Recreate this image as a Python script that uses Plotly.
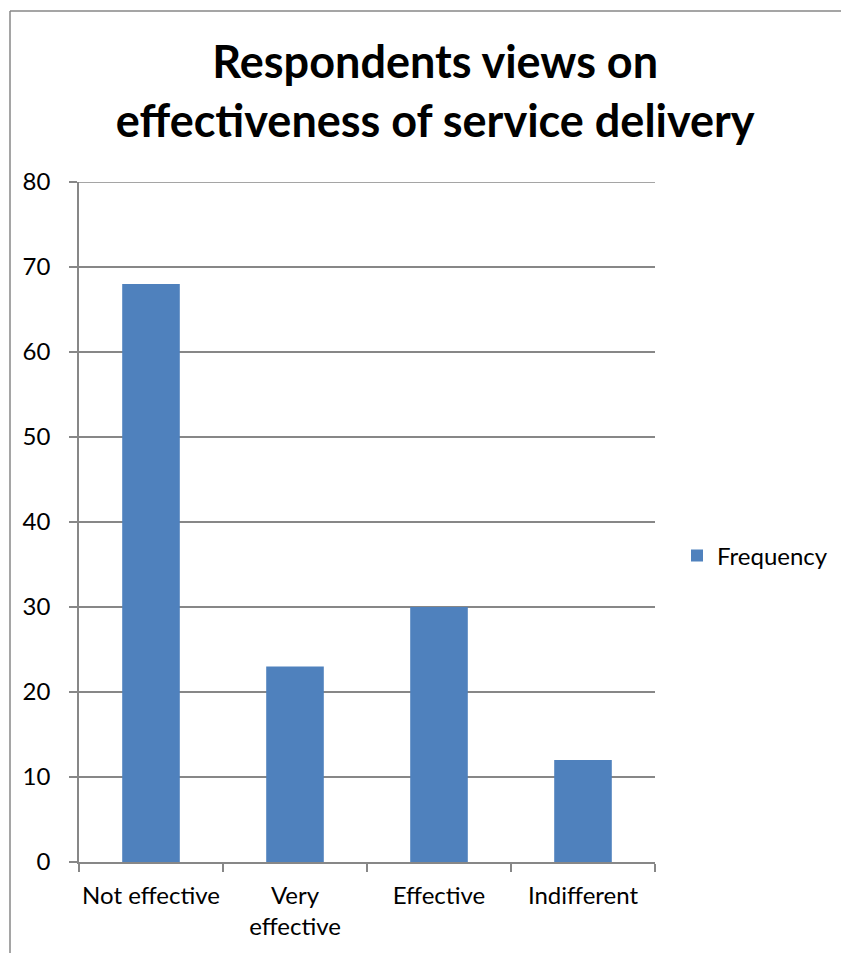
import plotly.graph_objects as go

categories = ["Not effective", "Very<br>effective", "Effective", "Indifferent"]
frequency = [68, 23, 30, 12]
series_name = "Frequency"
title_text = "Respondents views on<br>effectiveness of service delivery"
y_ticks = [0, 10, 20, 30, 40, 50, 60, 70, 80]

FONT = "Lato"
GRID = "#878787"

fig = go.Figure()
fig.add_trace(go.Bar(
    x=categories, y=frequency, name=series_name,
    marker=dict(color="#4F81BD", line=dict(width=0)),
    showlegend=True,
))

# page body has an 8px margin
W, H = 841, 945
L, R, T, B = 71, 647, 174, 854
PW, PH = R - L, B - T


def px(x):
    return (x - L) / PW


def py(y):
    return (B - y) / PH


fig.update_layout(
    width=W, height=H,
    margin=dict(l=L, r=W - R, t=T, b=H - B, pad=0, autoexpand=False),
    paper_bgcolor="white", plot_bgcolor="white",
    font=dict(family=FONT, color="black", size=24),
    bargap=0.6,
    title=dict(text="<b>" + title_text + "</b>", x=0.508, xanchor="center",
               y=1 - 70 / H, yanchor="bottom",
               font=dict(family=FONT, size=45, color="black")),
    legend=dict(x=px(669), xanchor="left", y=py(548),
                yanchor="middle", font=dict(size=24), bgcolor="rgba(0,0,0,0)",
                itemwidth=30),
    showlegend=True,
    shapes=[
        dict(type="line", xref="paper", yref="paper",
             x0=px(2), x1=px(860), y0=py(3), y1=py(3),
             line=dict(color=GRID, width=1.5)),
        dict(type="line", xref="paper", yref="paper",
             x0=px(2), x1=px(2), y0=py(3), y1=py(990),
             line=dict(color=GRID, width=1.5)),
        dict(type="line", xref="paper", yref="y",
             x0=0, x1=1, y0=y_ticks[-1], y1=y_ticks[-1],
             line=dict(color=GRID, width=1.5)),
    ],
)
fig.update_xaxes(
    showline=True, linecolor=GRID, linewidth=1.5, automargin=False, tickangle=0,
    ticks="outside", tickson="boundaries", ticklen=8, tickcolor=GRID, tickwidth=1.5,
    showgrid=False, tickfont=dict(size=24, family=FONT), ticklabelstandoff=11,
)
fig.update_yaxes(
    range=[0, 80], tickvals=y_ticks, showline=True, linecolor=GRID, linewidth=1.5,
    automargin=False,
    ticks="outside", ticklen=8, tickcolor=GRID, tickwidth=1.5,
    showgrid=True, gridcolor=GRID, gridwidth=1.5, zeroline=False,
    tickfont=dict(size=24, family=FONT), ticklabelstandoff=14,
)
fig.write_html("out.html")
